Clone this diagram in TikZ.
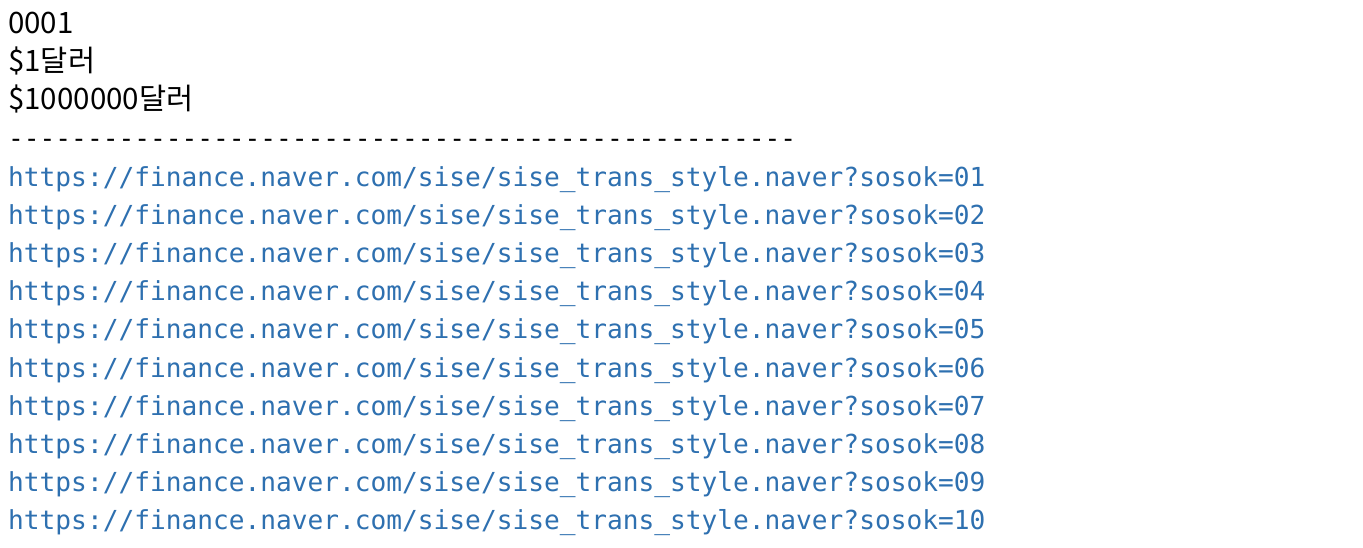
\documentclass[tikz,border=0pt]{standalone}
\usepackage{fontspec}
\setmainfont{Noto Sans CJK KR}
\newfontfamily\consfont{DejaVu Sans Mono}
\usetikzlibrary{positioning}
\definecolor{linkblue}{RGB}{46,112,176}
\newcommand\tenhy{-{}-{}-{}-{}-{}-{}-{}-{}-{}-{}}
\newcommand\sitepath{https://finance.naver.com/sise/sise\_trans\_style.naver?sosok=}

\begin{document}
\begin{tikzpicture} [x=1pt,y=1pt]

\tikzstyle{printline}=[anchor=base west,inner sep=0pt,font=\fontsize{29.5}{34}\selectfont]
\tikzstyle{dashline}=[anchor=base west,inner sep=0pt,font=\consfont\fontsize{26.18}{32}\selectfont]
\tikzstyle{urlline}=[anchor=base west,inner sep=0pt,text=linkblue,font=\consfont\fontsize{26.18}{32}\selectfont]

  \path[fill=white,use as bounding box] (0,0) rectangle (1363,-547);

  \node[printline] (code) at (8,-33) {0001};
  \node[printline] (one) at (8,-71) {\$1달러};
  \node[printline] (million) at (8,-109) {\$1000000달러};
  \node[dashline] (sep) at (8,-147) {\tenhy\tenhy\tenhy\tenhy\tenhy};

  \node[urlline] (u01) at (8,-186.5) {\sitepath 01};
  \node[urlline] (u02) at (8,-224.6) {\sitepath 02};
  \node[urlline] (u03) at (8,-262.7) {\sitepath 03};
  \node[urlline] (u04) at (8,-300.8) {\sitepath 04};
  \node[urlline] (u05) at (8,-338.9) {\sitepath 05};
  \node[urlline] (u06) at (8,-377.0) {\sitepath 06};
  \node[urlline] (u07) at (8,-415.1) {\sitepath 07};
  \node[urlline] (u08) at (8,-453.2) {\sitepath 08};
  \node[urlline] (u09) at (8,-491.3) {\sitepath 09};
  \node[urlline] (u10) at (8,-529.4) {\sitepath 10};
\end{tikzpicture}
\end{document}
